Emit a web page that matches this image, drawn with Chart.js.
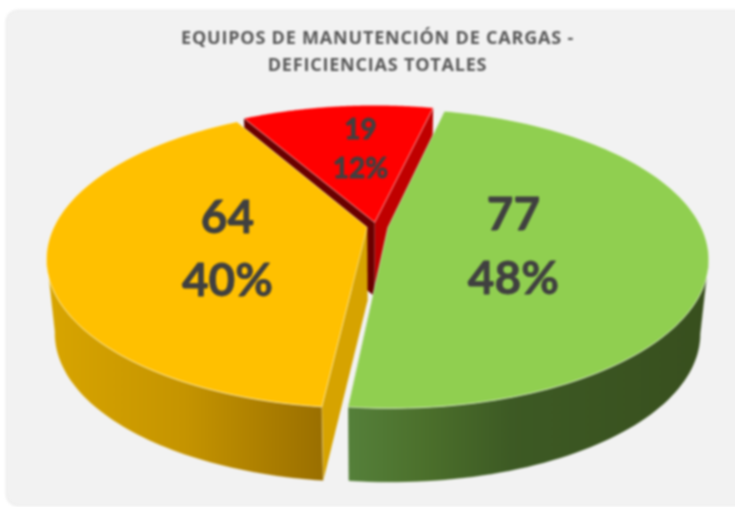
<!DOCTYPE html>
<html><head><meta charset="utf-8">
<script src="https://cdn.jsdelivr.net/npm/chart.js@4"></script>
<style>
html,body{margin:0;padding:0;background:#fff;width:735px;height:507px;overflow:hidden}
#wrap{position:relative;width:735px;height:507px;filter:blur(1px)}
#panel{position:absolute;left:7px;top:11px;width:740px;height:494px;background:#f2f2f2;border-radius:11px;box-shadow:0 0 2px 1px #e6e6e6}
canvas{position:absolute;left:0;top:0}
</style></head><body>
<div id="wrap"><div id="panel"></div><canvas id="c" width="735" height="507"></canvas></div>
<script>
const titleLines = ['EQUIPOS DE MANUTENCIÓN DE CARGAS -', 'DEFICIENCIAS TOTALES'];
const categories = ['Verde', 'Ámbar', 'Rojo'];
const values = [77, 64, 19];
const topColors = ['#90cf50', '#ffc000', '#ff0000'];
const sliceOffsets = [8, 6, 6];
const wallStops = [
  [[0, '#55803a'], [0.22, '#4b6f2b'], [0.45, '#3d5a24'], [1, '#384f1e']],
  [[0, '#d8a500'], [0.5, '#c59400'], [1, '#9a6f00']],
  [[0, '#c00000'], [1, '#c00000']]
];
const cutStart = ['#55803a', '#d6a300', '#6a0000'];
const cutEnd = ['#55803a', '#d6a300', '#c00000'];
const labelRadius = [0.40, 0.44, 0.55];
const labelNudgeX = [0, -2, 8];
const labelNudgeY = [10, 9, -4];
const labelFont = [46, 46, 28];

const cam = {cx: 376, cy: 226.5, A: 313, B: 143, k: 0.207, depth: 74, shrink: 0.975};
function project(u, v, low) {
  const w = 1 - cam.k * v;
  const s = low ? cam.shrink : 1;
  return [cam.cx + s * cam.A * u / w, cam.cy + cam.B * v / w + (low ? cam.depth : 0)];
}
function slicePoint(arc, angle, frac, low) {
  const mid = (arc.startAngle + arc.endAngle) / 2;
  const e = arc.options.offset / arc.outerRadius;
  return project(e * Math.cos(mid) + frac * Math.cos(angle), e * Math.sin(mid) + frac * Math.sin(angle), low);
}
function poly(ctx, pts) {
  ctx.beginPath();
  pts.forEach((p, i) => i ? ctx.lineTo(p[0], p[1]) : ctx.moveTo(p[0], p[1]));
  ctx.closePath();
}
const STEPS = 120;
const pie3d = {
  id: 'pie3d',
  beforeDraw(chart) { chart.ctx.letterSpacing = '0.8px'; },
  beforeDatasetsDraw(chart) {
    const ctx = chart.ctx;
    ctx.letterSpacing = '0px';
    const arcs = chart.getDatasetMeta(0).data;
    const order = [2, 1, 0];
    ctx.save();
    ctx.lineJoin = 'round';
    for (const i of order) {
      const a = arcs[i], s = a.startAngle, e = a.endAngle;
      const faces = [[e, cutEnd[i]], [s, cutStart[i]]];
      for (const [ang, col] of faces) {
        poly(ctx, [slicePoint(a, ang, 0, false), slicePoint(a, ang, 1, false), slicePoint(a, ang, 1, true), slicePoint(a, ang, 0, true)]);
        ctx.fillStyle = col; ctx.fill();
      }
      const top = [], low = [];
      let minX = 1e9, maxX = -1e9;
      for (let n = 0; n <= STEPS; n++) {
        const t = s + (e - s) * n / STEPS;
        top.push(slicePoint(a, t, 1, false)); low.push(slicePoint(a, t, 1, true));
      }
      const vis = [];
      for (let n = 0; n < STEPS; n++) if (top[n + 1][0] < top[n][0]) vis.push(n);
      if (vis.length) {
        vis.forEach(n => { minX = Math.min(minX, top[n + 1][0]); maxX = Math.max(maxX, top[n][0]); });
        const g = ctx.createLinearGradient(minX, 0, maxX, 0);
        wallStops[i].forEach(st => g.addColorStop(st[0], st[1]));
        const pts = vis.map(n => top[n]).concat([top[vis[vis.length - 1] + 1], low[vis[vis.length - 1] + 1]]);
        for (let j = vis.length - 1; j >= 0; j--) pts.push(low[vis[j]]);
        poly(ctx, pts);
        ctx.fillStyle = g; ctx.fill();
        ctx.strokeStyle = 'rgba(255,255,255,0.4)'; ctx.lineWidth = 0.8; ctx.stroke();
      }
      poly(ctx, [slicePoint(a, s, 0, false)].concat(top));
      ctx.fillStyle = a.options.backgroundColor; ctx.fill();
      ctx.strokeStyle = 'rgba(255,255,255,0.55)'; ctx.lineWidth = 0.9; ctx.stroke();
    }
    const total = values.reduce((x, y) => x + y, 0);
    ctx.fillStyle = '#404040';
    ctx.strokeStyle = '#404040';
    ctx.lineWidth = 0.8;
    ctx.textAlign = 'center'; ctx.textBaseline = 'middle';
    arcs.forEach((a, i) => {
      const mid = (a.startAngle + a.endAngle) / 2;
      const p = slicePoint(a, mid, labelRadius[i], false);
      const fs = labelFont[i];
      ctx.font = 'bold ' + fs + 'px Lato';
      const x = p[0] + labelNudgeX[i], y = p[1] + labelNudgeY[i];
      const l1 = String(values[i]), l2 = Math.round(values[i] / total * 100) + '%';
      ctx.fillText(l1, x, y - fs * 0.69); ctx.strokeText(l1, x, y - fs * 0.69);
      ctx.fillText(l2, x, y + fs * 0.69); ctx.strokeText(l2, x, y + fs * 0.69);
    });
    ctx.restore();
    return false;
  }
};
new Chart(document.getElementById('c'), {
  type: 'pie',
  data: {labels: categories, datasets: [{data: values, backgroundColor: topColors, borderWidth: 0, offset: sliceOffsets}]},
  options: {
    responsive: false, animation: false, rotation: 13,
    layout: {padding: {left: 20}},
    plugins: {
      legend: {display: false}, tooltip: {enabled: false},
      title: {display: true, text: titleLines, color: '#595959', font: {family: 'Open Sans', size: 18, weight: 'bold', lineHeight: 1.5}, padding: {top: 25, bottom: 4}}
    }
  },
  plugins: [pie3d]
});
</script></body></html>
